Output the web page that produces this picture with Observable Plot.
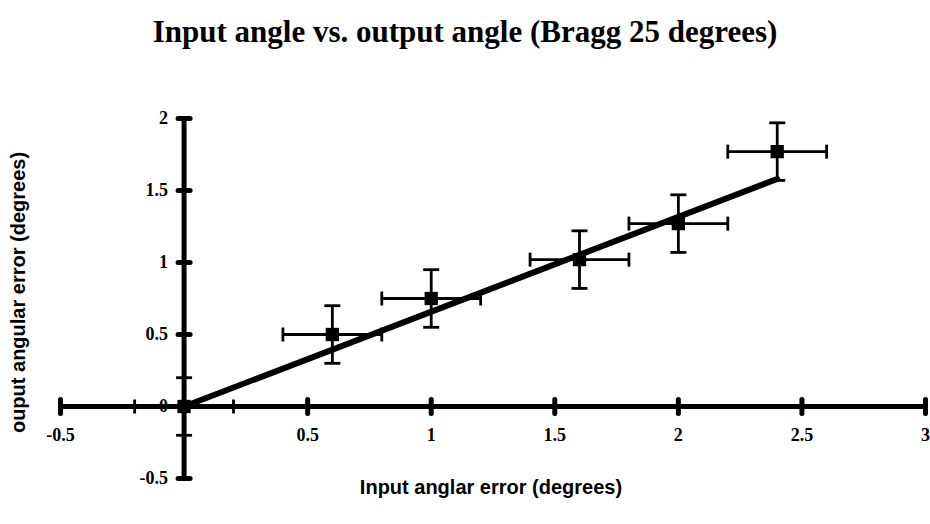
<!DOCTYPE html>
<html>
<head>
<meta charset="utf-8">
<script src="https://cdn.jsdelivr.net/npm/d3@7"></script>
<script src="https://cdn.jsdelivr.net/npm/@observablehq/plot@0.6"></script>
<style>
  html, body { margin: 0; padding: 0; background: #fff; }
  #title { height: 70px; box-sizing: border-box; padding-top: 15px; text-align: center;
    font: bold 31px "Liberation Serif", "Times New Roman", serif; color: #000; line-height: 34px; }
</style>
</head>
<body>
<div id="title">Input angle vs. output angle (Bragg 25 degrees)</div>
<div id="chart"></div>
<script>
// Measured points
const inputX  = [0, 0.6, 1, 1.6, 2, 2.4];
const outputY = [0, 0.5, 0.75, 1.02, 1.27, 1.77];
const xErr    = [0.2, 0.2, 0.2, 0.2, 0.2, 0.2];
const yErr    = [0.2, 0.2, 0.2, 0.2, 0.2, 0.2];
// Fitted line
const fitX = [0, 2.4];
const fitY = [0, 1.58];
// Axis ticks
const xTicks = [-0.5, 0.5, 1, 1.5, 2, 2.5, 3];
const xTickLabels = ["-0.5", "0.5", "1", "1.5", "2", "2.5", "3"];
const yTicks = [-0.5, 0, 0.5, 1, 1.5, 2];
const yTickLabels = ["-0.5", "0", "0.5", "1", "1.5", "2"];
const xDomain = [-0.5, 3];
const yDomain = [-0.5, 2];
const xTitle = "Input anglar error (degrees)";
const yTitle = "ouput angular error (degrees)";

const points = inputX.map((x, i) => ({x, y: outputY[i], ex: xErr[i], ey: yErr[i]}));
const fit = fitX.map((x, i) => ({x, y: fitY[i]}));
const xt = xTicks.map((v, i) => ({v, label: xTickLabels[i]}));
const yt = yTicks.map((v, i) => ({v, label: yTickLabels[i]}));

const vline = {draw(ctx, size) { const r = Math.sqrt(size / Math.PI); ctx.moveTo(0, -r); ctx.lineTo(0, r); }};
const hline = {draw(ctx, size) { const r = Math.sqrt(size / Math.PI); ctx.moveTo(-r, 0); ctx.lineTo(r, 0); }};

const serif = '"Liberation Serif", "Times New Roman", serif';
const sans = '"Liberation Sans", Arial, sans-serif';

const chart = Plot.plot({
  width: 930,
  height: 454,
  marginLeft: 60,
  marginRight: 5,
  marginTop: 48,
  marginBottom: 46,
  x: {domain: xDomain, axis: null},
  y: {domain: yDomain, axis: null},
  style: {background: "white", overflow: "visible"},
  marks: [
    // axes lines
    Plot.ruleY([0], {x1: xDomain[0], x2: xDomain[1], stroke: "black", strokeWidth: 5}),
    Plot.ruleX([0], {y1: yDomain[0], y2: yDomain[1], stroke: "black", strokeWidth: 5}),
    // tick bulges
    Plot.dot(xt, {x: "v", y: 0, symbol: vline, r: 7, fill: "none", stroke: "black", strokeWidth: 5, strokeLinecap: "round"}),
    Plot.dot(yt, {x: 0, y: "v", symbol: hline, r: 6, fill: "none", stroke: "black", strokeWidth: 5, strokeLinecap: "round"}),
    // tick labels
    Plot.text(xt, {x: "v", y: 0, text: "label", dy: 29, fontFamily: serif, fontWeight: "bold", fontSize: 18, fill: "black"}),
    Plot.text(yt, {x: 0, y: "v", text: "label", dx: -16, textAnchor: "end", fontFamily: serif, fontWeight: "bold", fontSize: 18, fill: "black"}),
    // fit line
    Plot.line(fit, {x: "x", y: "y", stroke: "black", strokeWidth: 6}),
    // error bars
    Plot.ruleX(points, {x: "x", y1: d => d.y - d.ey, y2: d => d.y + d.ey, stroke: "black", strokeWidth: 2.8}),
    Plot.ruleY(points, {y: "y", x1: d => d.x - d.ex, x2: d => d.x + d.ex, stroke: "black", strokeWidth: 2.8}),
    Plot.dot(points, {x: "x", y: d => d.y - d.ey, symbol: hline, r: 8, fill: "none", stroke: "black", strokeWidth: 2.8}),
    Plot.dot(points, {x: "x", y: d => d.y + d.ey, symbol: hline, r: 8, fill: "none", stroke: "black", strokeWidth: 2.8}),
    Plot.dot(points, {x: d => d.x - d.ex, y: "y", symbol: vline, r: 7, fill: "none", stroke: "black", strokeWidth: 2.8}),
    Plot.dot(points, {x: d => d.x + d.ex, y: "y", symbol: vline, r: 7, fill: "none", stroke: "black", strokeWidth: 2.8}),
    // markers
    Plot.dot(points, {x: "x", y: "y", symbol: "square", r: 7.5, fill: "black", stroke: "none"}),
    // axis titles
    Plot.text([xTitle], {frameAnchor: "bottom", dy: 15, dx: -2, fontFamily: sans, fontWeight: "bold", fontSize: 20, fill: "black"}),
    Plot.text([yTitle], {frameAnchor: "left", textAnchor: "middle", dx: -42, dy: -6, rotate: -90, fontFamily: sans, fontWeight: "bold", fontSize: 20, fill: "black"})
  ]
});
document.getElementById("chart").appendChild(chart);
</script>
</body>
</html>
